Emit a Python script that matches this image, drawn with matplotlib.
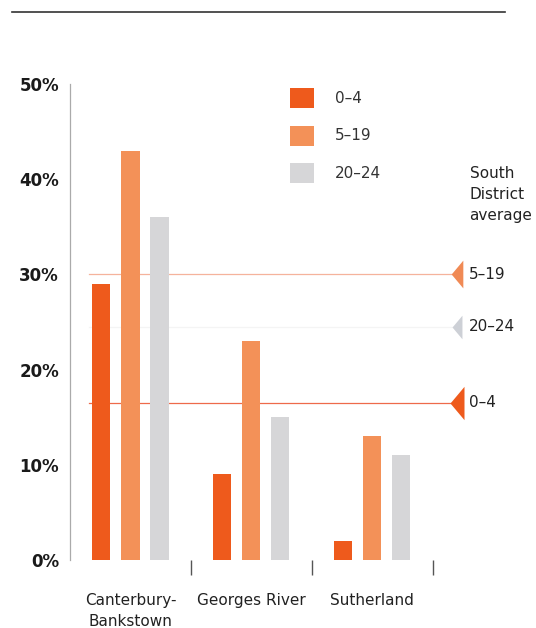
import numpy as np
import matplotlib.pyplot as plt
from matplotlib.patches import Rectangle

plt.rcParams['font.family'] = ['DejaVu Sans']

councils = ['Canterbury-\nBankstown', 'Georges River', 'Sutherland']
age_groups = ['0–4', '5–19', '20–24']
share_0_4 = [29, 9, 2]
share_5_19 = [43, 23, 13]
share_20_24 = [36, 15, 11]
district_avg = {'0–4': 16.5, '5–19': 30, '20–24': 24.5}

colors = {'0–4': '#EE5A1C', '5–19': '#F39158', '20–24': '#D6D6D8'}
line_colors = {'0–4': '#EE6A4A', '5–19': '#F5B39C', '20–24': '#F4F4F4'}
marker_colors = {'0–4': '#EE5A1C', '5–19': '#F08A55', '20–24': '#CDD0D6'}
TEXT = '#222222'

fig = plt.figure(figsize=(5.36, 6.28), dpi=100)
ax = fig.add_axes([0.1306, 0.1083, 0.733, 0.758])

x = np.arange(len(councils))
offsets = [-0.24, 0.0, 0.24]
width = 0.15
for off, grp, vals in zip(offsets, age_groups, [share_0_4, share_5_19, share_20_24]):
    ax.bar(x + off, vals, width, color=colors[grp], zorder=3)

# tall, narrow arrowhead for the average markers
arrow = [(0.42, 1), (-0.42, 0), (0.42, -1), (0.42, 1)]

# district averages as reference lines with arrowheads on the right
for grp in ['20–24', '5–19', '0–4']:
    y = district_avg[grp]
    ax.plot([-0.34, 2.66], [y, y], color=line_colors[grp], lw=0.9, zorder=2)
    ms = {'0–4': 24, '5–19': 20, '20–24': 17}[grp]
    ax.plot([2.705], [y], marker=arrow, ms=ms, color=marker_colors[grp],
            mew=0, clip_on=False, zorder=4)
    ax.text(2.80, y, grp, ha='left', va='center', fontsize=11, color=TEXT)

fig.text(0.876, 0.691, 'South\nDistrict\naverage', ha='left', va='center',
         fontsize=11, color=TEXT, linespacing=1.5)

ax.set_xlim(-0.5, 2.75)
ax.set_ylim(0, 50)
ax.set_yticks(np.arange(0, 51, 10))
ax.set_yticklabels([f'{v}%' for v in range(0, 51, 10)], fontsize=12, fontweight='bold',
                   color='#1A1A1A')
ax.tick_params(axis='y', length=0, pad=8)
ax.set_xticks(x)
ax.set_xticklabels(councils, fontsize=11, color=TEXT, linespacing=1.45)
ax.set_xticks([0.5, 1.5, 2.5], minor=True)
ax.tick_params(axis='x', which='major', length=0, pad=24)
ax.tick_params(axis='x', which='minor', length=11, width=1, color='#555555')

for side in ['top', 'right', 'bottom']:
    ax.spines[side].set_visible(False)
ax.spines['left'].set_color('#AAAAAA')
ax.spines['left'].set_linewidth(0.9)

# legend: coloured squares with age-group labels
for i, grp in enumerate(age_groups):
    yb = 0.828 - i * 0.0597
    fig.add_artist(Rectangle((0.541, yb), 0.0448, 0.0318, transform=fig.transFigure,
                             color=colors[grp], lw=0))
    fig.text(0.625, yb + 0.0159, grp, ha='left', va='center', fontsize=11, color='#333333')

fig.add_artist(plt.Line2D([0.022, 0.943], [0.981, 0.981], color='#333333', lw=1.2))

fig.savefig('out.png', dpi=100, facecolor='white')
